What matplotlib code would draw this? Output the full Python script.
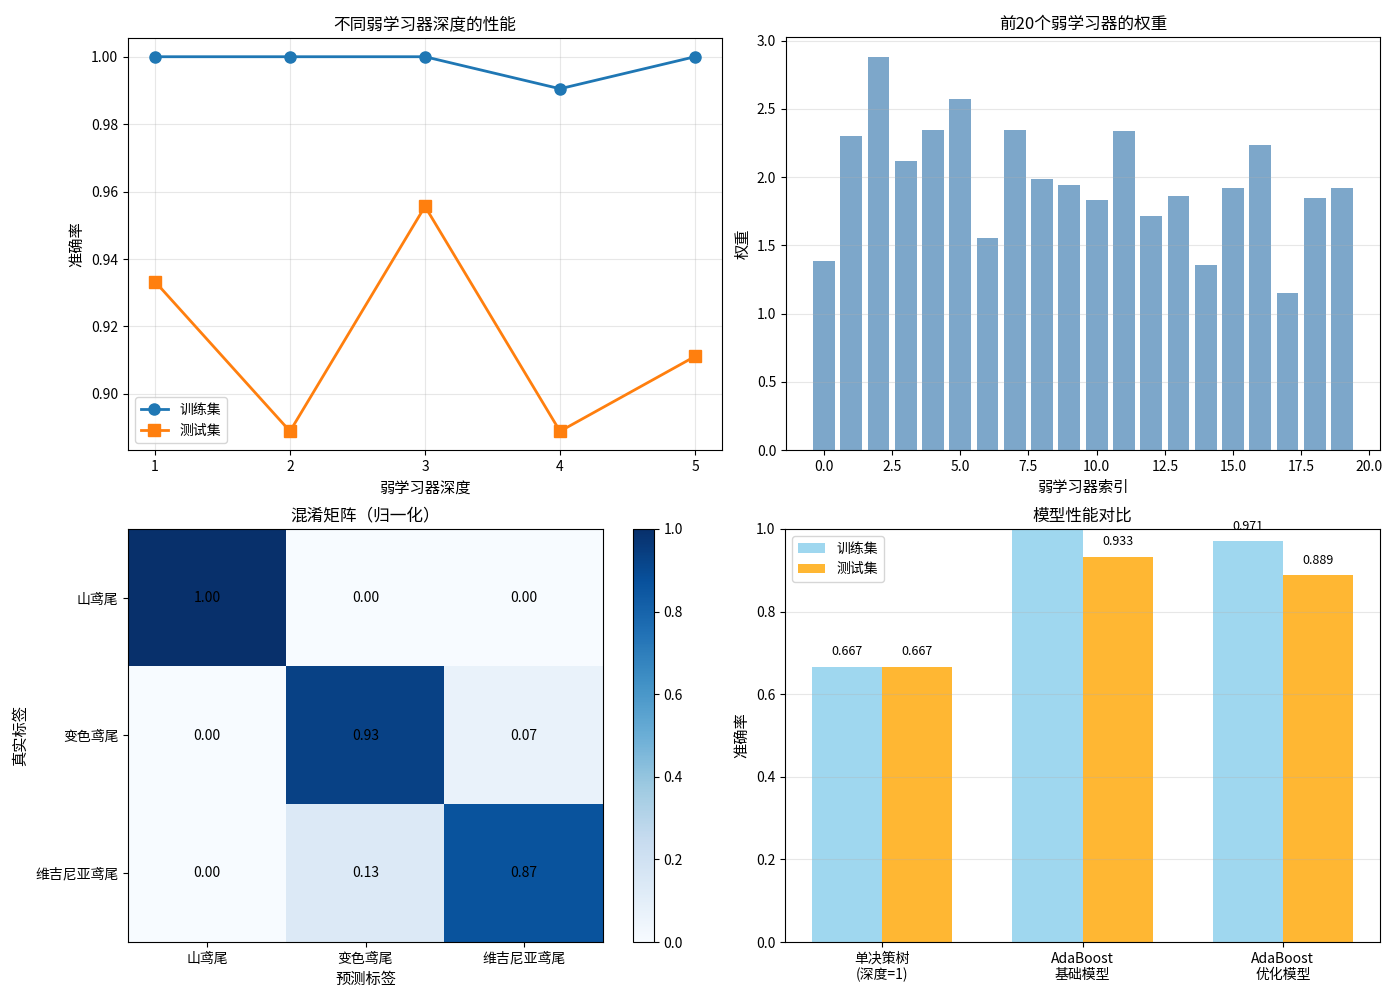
import matplotlib
matplotlib.use("Agg")
import matplotlib.pyplot as plt
import numpy as np

plt.rcParams['font.family'] = ['Noto Sans CJK SC', 'DejaVu Sans']
plt.rcParams['axes.unicode_minus'] = False
plt.rcParams['axes.labelsize'] = 11

# Panel 1: depth vs accuracy
depths = [1, 2, 3, 4, 5]
train_acc = [1.0, 1.0, 1.0, 0.9905, 1.0]
test_acc = [0.9333, 0.8889, 0.9556, 0.8889, 0.9111]

# Panel 2: weights of first 20 weak learners
weights = [1.386, 2.303, 2.883, 2.120, 2.347, 2.575, 1.555, 2.347, 1.988, 1.944,
           1.834, 2.340, 1.716, 1.863, 1.357, 1.922, 2.237, 1.152, 1.848, 1.922]

# Panel 3: normalized confusion matrix
class_names = ['山鸢尾', '变色鸢尾', '维吉尼亚鸢尾']
cm = np.array([[1.00, 0.00, 0.00],
               [0.00, 0.933, 0.067],
               [0.00, 0.133, 0.867]])

# Panel 4: model comparison
models = ['单决策树\n(深度=1)', 'AdaBoost\n基础模型', 'AdaBoost\n优化模型']
train_scores = [0.667, 1.000, 0.971]
test_scores = [0.667, 0.933, 0.889]

fig = plt.figure(figsize=(14, 10), dpi=100)
W, H = 1400.0, 1000.0


def box(x0, y0, x1, y1):
    return [x0 / W, 1 - y1 / H, (x1 - x0) / W, (y1 - y0) / H]


ax1 = fig.add_axes(box(128, 38, 722, 450))
ax2 = fig.add_axes(box(786, 37, 1380, 450))
ax3 = fig.add_axes(box(128, 529, 603, 942))
cax = fig.add_axes(box(633, 529, 654, 942))
ax4 = fig.add_axes(box(785, 529, 1380, 942))

ax = ax1
ax.plot(depths, train_acc, 'o-', label='训练集', linewidth=2, markersize=8)
ax.plot(depths, test_acc, 's-', label='测试集', linewidth=2, markersize=8)
ax.set_xlabel('弱学习器深度')
ax.set_ylabel('准确率')
ax.set_title('不同弱学习器深度的性能')
ax.set_xticks(depths)
ax.legend(loc='lower left')
ax.grid(True, alpha=0.3)

ax = ax2
ax.bar(range(len(weights)), weights, color='steelblue', alpha=0.7)
ax.set_xlabel('弱学习器索引')
ax.set_ylabel('权重')
ax.set_title('前20个弱学习器的权重')
ax.grid(True, axis='y', alpha=0.3)

ax = ax3
im = ax.imshow(cm, interpolation='nearest', cmap='Blues', vmin=0, vmax=1, aspect='auto')
fig.colorbar(im, cax=cax)
ax.set_xticks(range(len(class_names)))
ax.set_yticks(range(len(class_names)))
ax.set_xticklabels(class_names)
ax.set_yticklabels(class_names)
for i in range(cm.shape[0]):
    for j in range(cm.shape[1]):
        ax.text(j, i, f'{cm[i, j]:.2f}', ha='center', va='center', color='black')
ax.set_xlabel('预测标签')
ax.set_ylabel('真实标签')
ax.set_title('混淆矩阵（归一化）')

ax = ax4
x = np.arange(len(models))
w = 0.35
b1 = ax.bar(x - w / 2, train_scores, w, label='训练集', color='skyblue', alpha=0.8)
b2 = ax.bar(x + w / 2, test_scores, w, label='测试集', color='orange', alpha=0.8)
ax.set_ylabel('准确率')
ax.set_title('模型性能对比')
ax.set_xticks(x)
ax.set_xticklabels(models)
ax.set_ylim(0, 1.0)
ax.legend(loc='upper left')
ax.grid(True, axis='y', alpha=0.3)
for bars in (b1, b2):
    for bar in bars:
        h = bar.get_height()
        if h < 1.0:
            ax.text(bar.get_x() + bar.get_width() / 2, h + 0.02, f'{h:.3f}',
                    ha='center', va='bottom', fontsize=9)

plt.savefig('out.png', dpi=100)
